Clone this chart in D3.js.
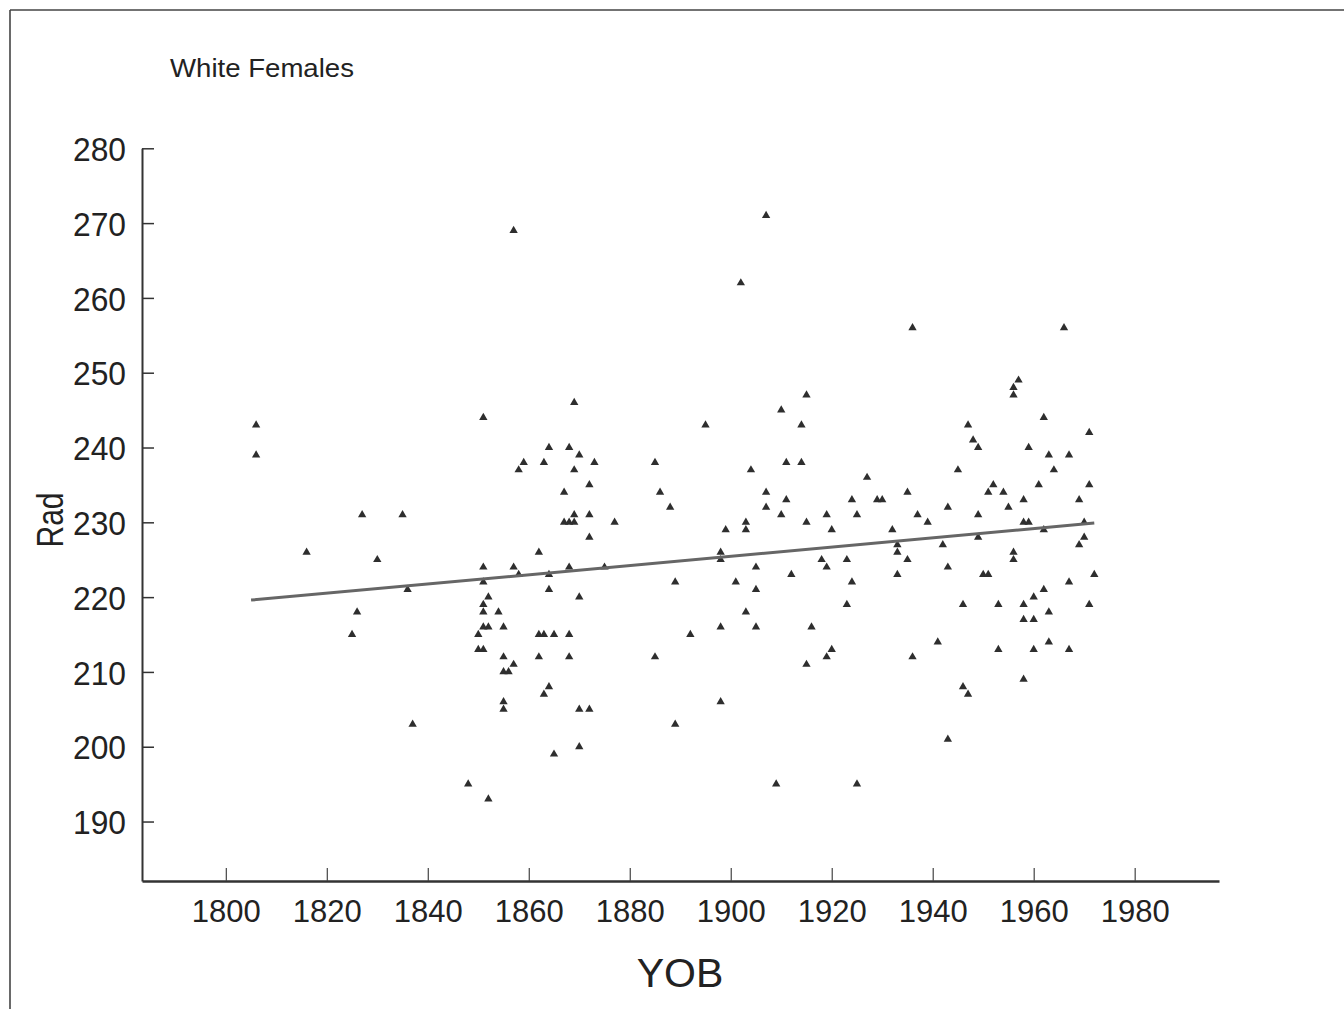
<!DOCTYPE html>
<html>
<head>
<meta charset="utf-8">
<script src="https://cdn.jsdelivr.net/npm/d3@7"></script>
<style>
  html, body { margin: 0; padding: 0; background: #ffffff; }
  svg { display: block; }
  text { font-family: Arial, "Liberation Sans", Helvetica, sans-serif; fill: #222; }
</style>
</head>
<body>
<svg id="chart" width="1344" height="1009"></svg>
<script>
// ---- data ----
const title = "White Females";
const xLabel = "YOB";
const yLabel = "Rad";
const xTicks = [1800, 1820, 1840, 1860, 1880, 1900, 1920, 1940, 1960, 1980];
const yTicks = [190, 200, 210, 220, 230, 240, 250, 260, 270, 280];

const yob = [
  1806,1806,1816,1825,1826,1827,1830,1835,1836,1837,1848,
  1850,1850,1851,1851,1851,1851,1851,1851,1851,1852,1852,1852,1854,
  1855,1855,1855,1855,1855,1856,1857,1857,1857,1858,1858,1859,
  1862,1862,1862,1863,1863,1863,1864,1864,1864,1864,1865,1865,
  1867,1867,1868,1868,1868,1868,1868,1869,1869,1869,1869,
  1870,1870,1870,1870,1872,1872,1872,1872,1873,1875,1877,
  1885,1885,1886,1888,1889,1889,1892,1895,1898,1898,1898,1898,1899,
  1901,1902,1903,1903,1903,1904,1905,1905,1905,1907,1907,1907,1909,
  1910,1910,1911,1911,1912,1914,1914,1915,1915,1915,1916,1918,1919,1919,1919,
  1920,1920,1923,1923,1924,1924,1925,1925,1927,1929,1930,1932,1933,1933,1933,
  1935,1935,1936,1936,1937,1939,1941,1942,1943,1943,1943,1945,1946,1946,
  1947,1947,1948,1949,1949,1949,1950,1951,1951,1952,1953,1953,1954,1955,
  1956,1956,1956,1956,1957,1958,1958,1958,1958,1958,1959,1959,
  1960,1960,1960,1961,1962,1962,1962,1963,1963,1963,1964,1966,
  1967,1967,1967,1969,1969,1970,1970,1971,1971,1971,1972
];
const rad = [
  243,239,226,215,218,231,225,231,221,203,195,
  215,213,244,224,222,219,218,216,213,220,216,193,218,
  216,212,210,206,205,210,269,224,211,237,223,238,
  226,215,212,238,215,207,240,223,221,208,215,199,
  234,230,240,230,224,215,212,246,237,231,230,
  239,220,205,200,235,231,228,205,238,224,230,
  238,212,234,232,222,203,215,243,226,225,216,206,229,
  222,262,230,229,218,237,224,221,216,271,234,232,195,
  245,231,238,233,223,243,238,247,230,211,216,225,231,224,212,
  229,213,225,219,233,222,231,195,236,233,233,229,227,226,223,
  234,225,256,212,231,230,214,227,232,224,201,237,219,208,
  243,207,241,240,231,228,223,223,234,235,219,213,234,232,
  248,247,226,225,249,233,230,219,217,209,240,230,
  220,217,213,235,244,229,221,239,218,214,237,256,
  239,222,213,233,227,230,228,242,235,219,223
];
// fitted regression line endpoints
const fitYob = [1805, 1972];
const fitRad = [219.6, 229.9];

// ---- drawing ----
const svg = d3.select("#chart");

// frame
svg.append("line").attr("x1", 10).attr("y1", 10).attr("x2", 1344).attr("y2", 10)
  .attr("stroke", "#444").attr("stroke-width", 1.6);
svg.append("line").attr("x1", 10).attr("y1", 10).attr("x2", 10).attr("y2", 1009)
  .attr("stroke", "#444").attr("stroke-width", 1.6);

const x = d3.scaleLinear().domain([1783.4, 1996.7]).range([142, 1219]);
const y = d3.scaleLinear().domain([182.05, 280]).range([881, 148.3]);

// title
svg.append("text").attr("x", 170).attr("y", 77)
  .attr("font-size", 26)
  .attr("textLength", 184).attr("lengthAdjust", "spacingAndGlyphs")
  .text(title);

// y axis
const yAxis = svg.append("g").attr("transform", "translate(142,0)")
  .call(d3.axisLeft(y).tickValues(yTicks).tickSizeInner(-12).tickSizeOuter(0));
yAxis.select(".domain").attr("stroke", "#333").attr("stroke-width", 2);
yAxis.selectAll(".tick line").attr("stroke", "#333").attr("stroke-width", 1.5);
yAxis.selectAll(".tick text")
  .attr("x", -16).attr("dy", "0.36em")
  .attr("font-size", 34).attr("fill", "#222")
  .attr("textLength", 53).attr("lengthAdjust", "spacingAndGlyphs")
  .style("font-family", "Arial, 'Liberation Sans', sans-serif");

// x axis
const xAxis = svg.append("g").attr("transform", "translate(0,881)")
  .call(d3.axisBottom(x).tickValues(xTicks).tickFormat(d3.format("d")).tickSizeInner(-13).tickSizeOuter(0));
xAxis.select(".domain").attr("stroke", "#333").attr("stroke-width", 2.6);
xAxis.selectAll(".tick line").attr("stroke", "#444").attr("stroke-width", 1.2);
xAxis.selectAll(".tick text")
  .attr("y", 41).attr("dy", 0)
  .attr("font-size", 31).attr("fill", "#222")
  .style("font-family", "Arial, 'Liberation Sans', sans-serif");

// axis titles
svg.append("text").attr("x", 680).attr("y", 987)
  .attr("text-anchor", "middle").attr("font-size", 41).text(xLabel);
svg.append("text")
  .attr("transform", "translate(63,520) rotate(-90)")
  .attr("text-anchor", "middle").attr("font-size", 37)
  .attr("textLength", 55).attr("lengthAdjust", "spacingAndGlyphs")
  .text(yLabel);

// points
const pts = yob.map((d, i) => ({ yob: d, rad: rad[i] }));
const tri = d3.symbol().type(d3.symbolTriangle).size(30);
svg.append("g").selectAll("path").data(pts).enter().append("path")
  .attr("d", tri)
  .attr("transform", d => `translate(${x(d.yob)},${y(d.rad)})`)
  .attr("fill", "#2e2e2e");

// regression line
const fit = fitYob.map((d, i) => ({ yob: d, rad: fitRad[i] }));
svg.append("path").datum(fit)
  .attr("d", d3.line().x(d => x(d.yob)).y(d => y(d.rad)))
  .attr("fill", "none").attr("stroke", "#666").attr("stroke-width", 3);
</script>
</body>
</html>
